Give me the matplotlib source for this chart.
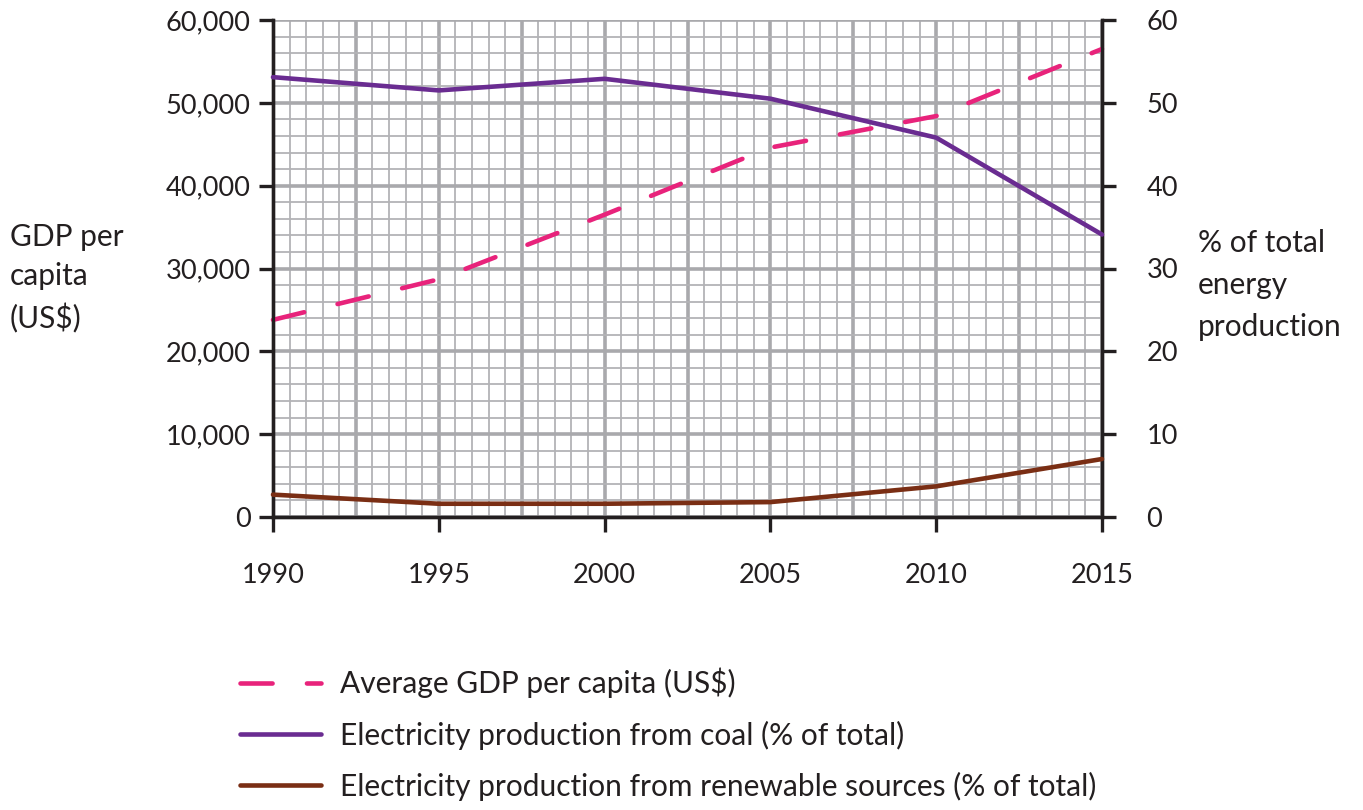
import numpy as np
import matplotlib
matplotlib.use("Agg")
import matplotlib.pyplot as plt
from matplotlib.lines import Line2D

plt.rcParams['font.family'] = ['Lato', 'DejaVu Sans']

# data
years = [1990, 1995, 2000, 2005, 2010, 2015]
gdp_per_capita = [23800, 28700, 36500, 44600, 48400, 56500]
coal_pct = [53.1, 51.5, 52.9, 50.5, 45.8, 34.1]
renewable_pct = [2.7, 1.6, 1.6, 1.8, 3.7, 7.0]

x_ticks = [1990, 1995, 2000, 2005, 2010, 2015]
gdp_ticks = [0, 10000, 20000, 30000, 40000, 50000, 60000]
pct_ticks = [0, 10, 20, 30, 40, 50, 60]

pink = "#E8237B"
purple = "#6A2C91"
brown = "#7A2E14"
grid_col = "#B3B3B6"
ink = "#231F20"
fs_tick = 19.5
fs = 21.5

fig = plt.figure(figsize=(13.63, 8.10), dpi=100)
ax = fig.add_axes([273 / 1363, 1 - 517 / 810, (1102 - 273) / 1363, (517 - 20) / 810])
ax2 = ax.twinx()

ax.set_xlim(1990, 2015)
ax.set_ylim(0, 60000)
ax2.set_ylim(0, 60)

# graph-paper grid
for xv in np.arange(1990, 2015.01, 0.5):
    major = abs((xv - 1990) / 2.5 - round((xv - 1990) / 2.5)) < 1e-6
    ax.axvline(xv, color="#A9A9AC" if major else grid_col, lw=2.6 if major else 1.3, zorder=0)
for yv in np.arange(0, 60001, 2000):
    major = yv % 10000 == 0
    ax.axhline(yv, color="#A9A9AC" if major else grid_col, lw=2.6 if major else 1.3, zorder=0)

ax.plot(years, gdp_per_capita, color=pink, lw=3.3, dashes=(7, 7.5),
        dash_capstyle="round", zorder=3, clip_on=False)
ax2.plot(years, coal_pct, color=purple, lw=3.3, solid_capstyle="round", zorder=3, clip_on=False)
ax2.plot(years, renewable_pct, color=brown, lw=3.3, solid_capstyle="round", zorder=3, clip_on=False)

ax.set_xticks(x_ticks)
ax.set_xticklabels([str(v) for v in x_ticks], fontsize=fs_tick)
ax.set_yticks(gdp_ticks)
ax.set_yticklabels([f"{v:,}" for v in gdp_ticks], fontsize=fs_tick)
ax2.set_yticks(pct_ticks)
ax2.set_yticklabels([str(v) for v in pct_ticks], fontsize=fs_tick)

for a in (ax, ax2):
    for s in ("left", "right", "bottom"):
        a.spines[s].set_linewidth(2.4)
        a.spines[s].set_color(ink)
    a.spines["top"].set_visible(False)
ax.tick_params(axis="x", direction="out", length=11, width=2.4, pad=22, colors=ink)
ax.tick_params(axis="y", direction="out", length=10, width=2.4, pad=6, colors=ink)
ax2.tick_params(axis="y", direction="out", length=10, width=2.4, pad=22, colors=ink)

fig.text(10 / 1363, 1 - 223 / 810, "GDP per\ncapita\n(US\\$)", fontsize=fs, va="top", ha="left",
         linespacing=1.5, color=ink)
fig.text(1198 / 1363, 1 - 229 / 810, "% of total\nenergy\nproduction", fontsize=fs, va="top", ha="left",
         linespacing=1.6, color=ink)

handles = [
    Line2D([], [], color=pink, lw=3.3, dashes=(7, 7.5), dash_capstyle="round"),
    Line2D([], [], color=purple, lw=3.3, solid_capstyle="round"),
    Line2D([], [], color=brown, lw=3.3, solid_capstyle="round"),
]
labels = [
    "Average GDP per capita (US\\$)",
    "Electricity production from coal (% of total)",
    "Electricity production from renewable sources (% of total)",
]
fig.legend(handles, labels, loc="upper left", bbox_to_anchor=(213 / 1363, 1 - 641 / 810),
           frameon=False, fontsize=fs, handlelength=2.7, handletextpad=0.66,
           labelspacing=0.74, labelcolor=ink)

fig.savefig("out.png", dpi=100)
